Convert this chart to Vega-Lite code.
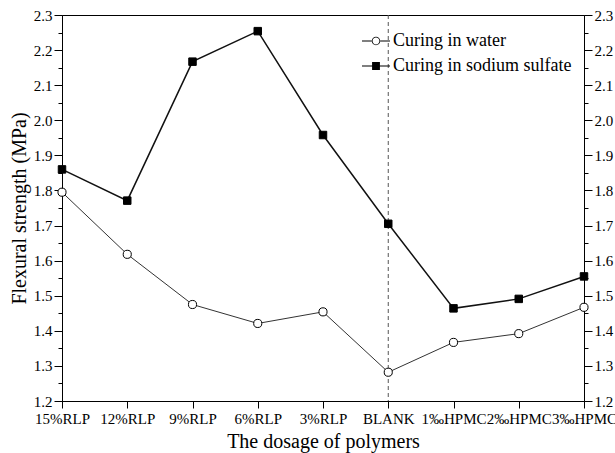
{
  "$schema": "https://vega.github.io/schema/vega-lite/v6.json",
  "width": 522,
  "height": 386,
  "autosize": {"type": "none"},
  "padding": {"left": 62, "top": 15, "right": 31, "bottom": 52},
  "background": "white",
  "config": {
    "font": "Liberation Serif",
    "view": {"stroke": "black", "strokeWidth": 1},
    "legend": {"labelFont": "Liberation Serif", "labelFontSize": 18, "labelColor": "black"},
    "axis": {
      "domainColor": "black", "tickColor": "black", "labelColor": "black", "titleColor": "black",
      "labelFont": "Liberation Serif", "titleFont": "Liberation Serif", "grid": false,
      "titleFontWeight": "normal", "labelFontSize": 15, "titleFontSize": 20, "tickWidth": 1, "domainWidth": 1
    }
  },
  "data": {
    "values": [
      {"cat": "15%RLP", "series": "Curing in water", "value": 1.795},
      {"cat": "12%RLP", "series": "Curing in water", "value": 1.618},
      {"cat": "9%RLP", "series": "Curing in water", "value": 1.475},
      {"cat": "6%RLP", "series": "Curing in water", "value": 1.421},
      {"cat": "3%RLP", "series": "Curing in water", "value": 1.454},
      {"cat": "BLANK", "series": "Curing in water", "value": 1.282},
      {"cat": "1‰HPMC", "series": "Curing in water", "value": 1.367},
      {"cat": "2‰HPMC", "series": "Curing in water", "value": 1.392},
      {"cat": "3‰HPMC", "series": "Curing in water", "value": 1.467},
      {"cat": "15%RLP", "series": "Curing in sodium sulfate", "value": 1.860},
      {"cat": "12%RLP", "series": "Curing in sodium sulfate", "value": 1.771},
      {"cat": "9%RLP", "series": "Curing in sodium sulfate", "value": 2.167},
      {"cat": "6%RLP", "series": "Curing in sodium sulfate", "value": 2.254},
      {"cat": "3%RLP", "series": "Curing in sodium sulfate", "value": 1.958},
      {"cat": "BLANK", "series": "Curing in sodium sulfate", "value": 1.705},
      {"cat": "1‰HPMC", "series": "Curing in sodium sulfate", "value": 1.464},
      {"cat": "2‰HPMC", "series": "Curing in sodium sulfate", "value": 1.491},
      {"cat": "3‰HPMC", "series": "Curing in sodium sulfate", "value": 1.555}
    ]
  },
  "layer": [
    {
      "data": {"values": [{"cat": "BLANK"}]},
      "mark": {"type": "rule", "strokeDash": [4, 3], "color": "#555555", "strokeWidth": 1},
      "encoding": {
        "x": {
          "field": "cat", "type": "nominal",
          "scale": {"type": "point", "padding": 0, "domain": ["15%RLP", "12%RLP", "9%RLP", "6%RLP", "3%RLP", "BLANK", "1‰HPMC", "2‰HPMC", "3‰HPMC"]},
          "axis": {"title": "The dosage of polymers", "labelAngle": 0, "tickSize": 7, "labelPadding": 3, "titlePadding": 5}
        }
      }
    },
    {
      "transform": [{"filter": "datum.series === 'Curing in water'"}],
      "mark": {"type": "line", "color": "#333333", "strokeWidth": 1},
      "encoding": {
        "x": {
          "field": "cat", "type": "nominal",
          "scale": {"type": "point", "padding": 0, "domain": ["15%RLP", "12%RLP", "9%RLP", "6%RLP", "3%RLP", "BLANK", "1‰HPMC", "2‰HPMC", "3‰HPMC"]},
          "axis": {"title": "The dosage of polymers", "labelAngle": 0, "tickSize": 7, "labelPadding": 3, "titlePadding": 5}
        },
        "y": {
          "field": "value", "type": "quantitative",
          "scale": {"domain": [1.2, 2.3], "nice": false, "zero": false},
          "axis": {
            "orient": "left", "title": "Flexural strength (MPa)", "titlePadding": 4,
            "values": [1.2, 1.25, 1.3, 1.35, 1.4, 1.45, 1.5, 1.55, 1.6, 1.65, 1.7, 1.75, 1.8, 1.85, 1.9, 1.95, 2.0, 2.05, 2.1, 2.15, 2.2, 2.25, 2.3],
            "labelExpr": "abs(datum.value*10 - round(datum.value*10)) < 0.01 ? format(datum.value, '.1f') : ''",
            "tickSize": {"condition": {"test": "abs(datum.value*10 - round(datum.value*10)) < 0.01", "value": 8}, "value": 4},
            "labelPadding": 2
          }
        }
      }
    },
    {
      "transform": [{"filter": "datum.series === 'Curing in sodium sulfate'"}],
      "mark": {"type": "line", "color": "#111111", "strokeWidth": 1.5},
      "encoding": {
        "x": {
          "field": "cat", "type": "nominal",
          "scale": {"type": "point", "padding": 0, "domain": ["15%RLP", "12%RLP", "9%RLP", "6%RLP", "3%RLP", "BLANK", "1‰HPMC", "2‰HPMC", "3‰HPMC"]},
          "axis": {"title": "The dosage of polymers", "labelAngle": 0, "tickSize": 7, "labelPadding": 3, "titlePadding": 5}
        },
        "y": {
          "field": "value", "type": "quantitative",
          "scale": {"domain": [1.2, 2.3], "nice": false, "zero": false},
          "axis": null
        }
      }
    },
    {
      "transform": [{"filter": "datum.series === 'Curing in water'"}],
      "mark": {"type": "point", "shape": "circle", "filled": true, "fill": "white", "stroke": "black", "strokeWidth": 1, "opacity": 1, "size": 66},
      "encoding": {
        "x": {
          "field": "cat", "type": "nominal",
          "scale": {"type": "point", "padding": 0, "domain": ["15%RLP", "12%RLP", "9%RLP", "6%RLP", "3%RLP", "BLANK", "1‰HPMC", "2‰HPMC", "3‰HPMC"]},
          "axis": {"title": "The dosage of polymers", "labelAngle": 0, "tickSize": 7, "labelPadding": 3, "titlePadding": 5}
        },
        "y": {
          "field": "value", "type": "quantitative",
          "scale": {"domain": [1.2, 2.3], "nice": false, "zero": false},
          "axis": {
            "orient": "right", "title": null,
            "values": [1.2, 1.25, 1.3, 1.35, 1.4, 1.45, 1.5, 1.55, 1.6, 1.65, 1.7, 1.75, 1.8, 1.85, 1.9, 1.95, 2.0, 2.05, 2.1, 2.15, 2.2, 2.25, 2.3],
            "labelExpr": "abs(datum.value*10 - round(datum.value*10)) < 0.01 ? format(datum.value, '.1f') : ''",
            "tickSize": {"condition": {"test": "abs(datum.value*10 - round(datum.value*10)) < 0.01", "value": 8}, "value": 4},
            "labelPadding": 2
          }
        }
      }
    },
    {
      "transform": [{"filter": "datum.series === 'Curing in sodium sulfate'"}],
      "mark": {"type": "point", "shape": "square", "filled": true, "fill": "black", "stroke": "black", "strokeWidth": 1, "opacity": 1, "size": 56},
      "encoding": {
        "x": {
          "field": "cat", "type": "nominal",
          "scale": {"type": "point", "padding": 0, "domain": ["15%RLP", "12%RLP", "9%RLP", "6%RLP", "3%RLP", "BLANK", "1‰HPMC", "2‰HPMC", "3‰HPMC"]},
          "axis": {"title": "The dosage of polymers", "labelAngle": 0, "tickSize": 7, "labelPadding": 3, "titlePadding": 5}
        },
        "y": {
          "field": "value", "type": "quantitative",
          "scale": {"domain": [1.2, 2.3], "nice": false, "zero": false},
          "axis": null
        }
      }
    },
    {
      "transform": [{"filter": "datum.value > 100"}],
      "mark": {"type": "point", "filled": true, "color": "black", "opacity": 1},
      "encoding": {
        "shape": {
          "field": "series", "type": "nominal",
          "scale": {
            "domain": ["Curing in water", "Curing in sodium sulfate"],
            "range": [
              "M-1,-0.036H-0.3V0.036H-1ZM0.3,-0.036H1V0.036H0.3ZM0.3,0A0.3,0.3,0,1,0,-0.3,0A0.3,0.3,0,1,0,0.3,0ZM0.245,0A0.245,0.245,0,1,1,-0.245,0A0.245,0.245,0,1,1,0.245,0Z",
              "M-1,-0.04H1V0.04H-1ZM-0.28,-0.28H0.28V0.28H-0.28Z"
            ]
          },
          "legend": {
            "title": null, "orient": "none", "legendX": 300, "legendY": 12, "direction": "vertical", "padding": 0,
            "labelFontSize": 18, "labelFont": "Liberation Serif", "labelColor": "black", "labelLimit": 400,
            "symbolSize": 784, "symbolFillColor": "black", "symbolStrokeWidth": 0, "symbolOpacity": 1,
            "labelOffset": 3, "rowPadding": 2,
            "encode": {"labels": {"update": {"font": {"value": "Liberation Serif"}, "fontSize": {"value": 18}}}}
          }
        }
      }
    }
  ],
  "resolve": {"axis": {"y": "independent"}}
}
